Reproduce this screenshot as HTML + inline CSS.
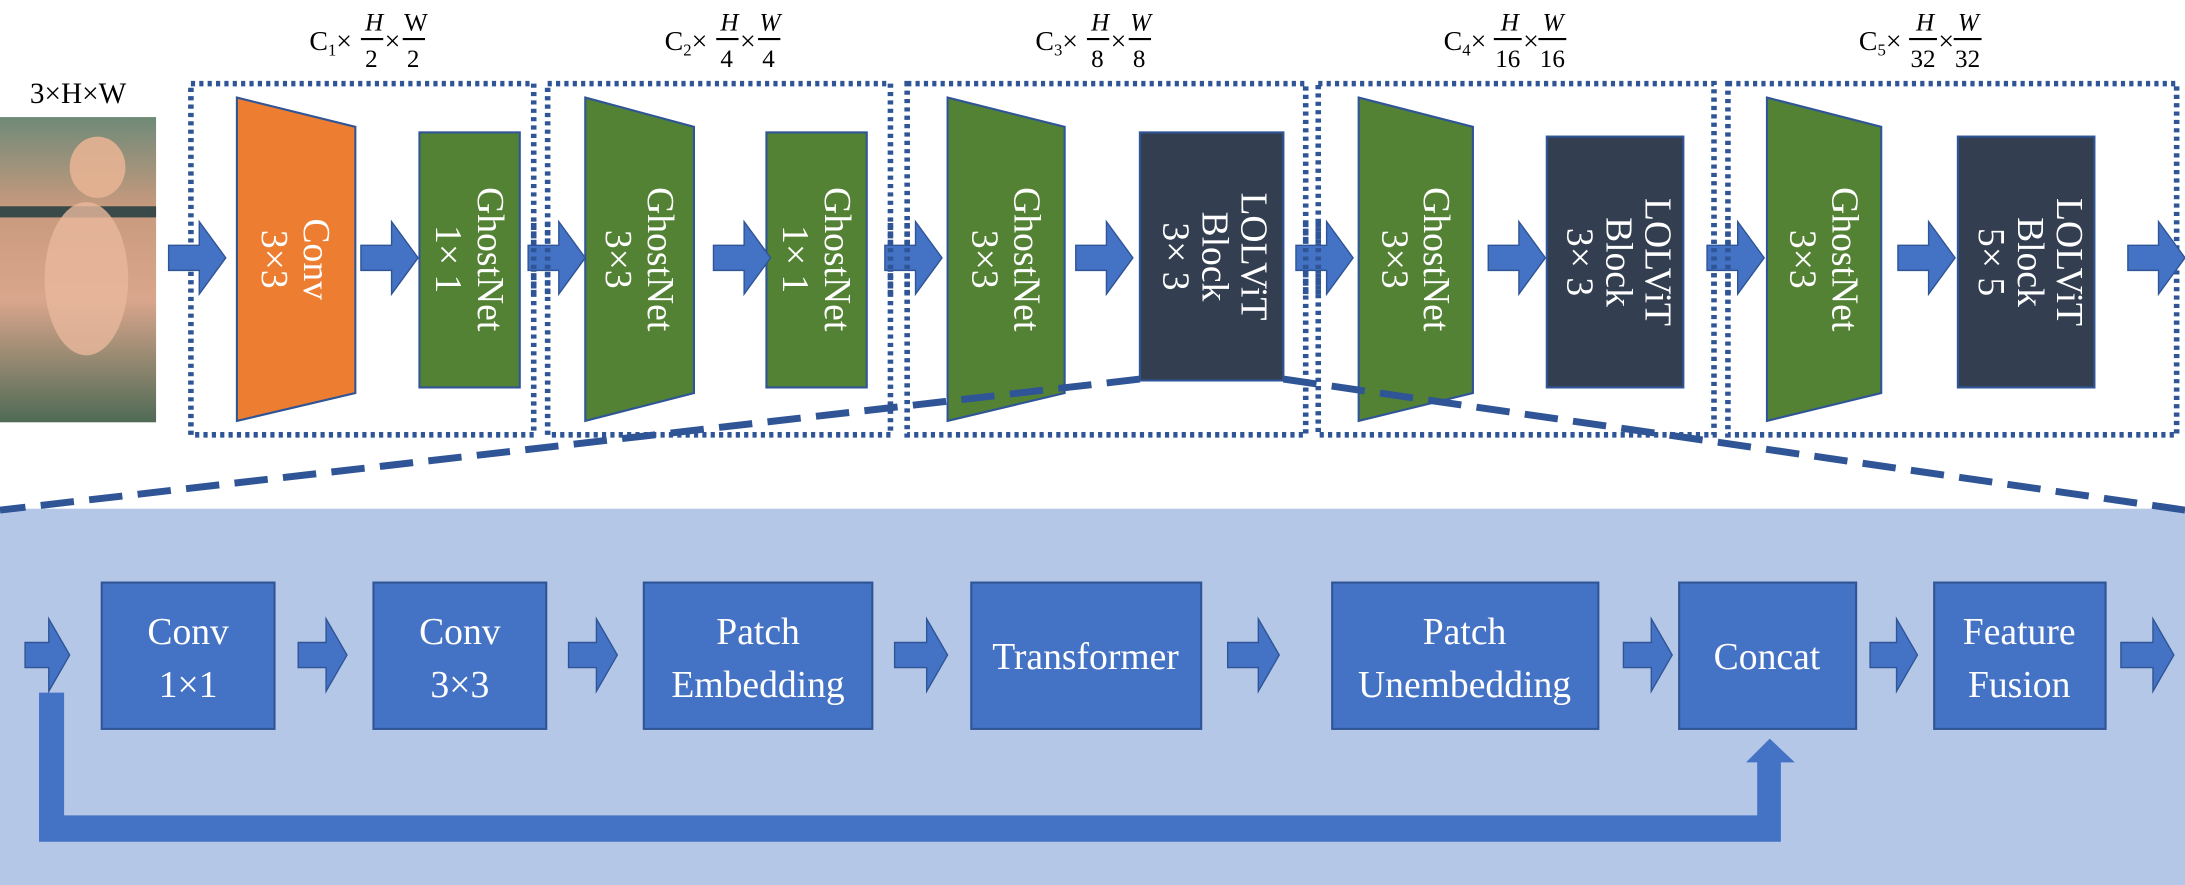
<!DOCTYPE html>
<html><head><meta charset="utf-8"><style>
html,body{margin:0;padding:0;background:#fff;}
svg{display:block;}
text{font-family:"Liberation Serif",serif;}
</style></head><body>
<svg width="2185" height="885" viewBox="0 0 1568 635" preserveAspectRatio="none" xmlns="http://www.w3.org/2000/svg">
<defs>
<linearGradient id="cat" x1="0" y1="0" x2="0" y2="1">
<stop offset="0" stop-color="#6f8a78"/><stop offset="0.3" stop-color="#c99a7e"/><stop offset="0.6" stop-color="#d9a68c"/><stop offset="1" stop-color="#4f6a55"/>
</linearGradient>
</defs>
<rect x="0" y="365" width="1568" height="270" fill="#b4c7e7"/>

<rect x="0" y="84" width="112" height="219" fill="url(#cat)"/>
<rect x="0" y="148" width="112" height="8" fill="#3a4a48"/>
<ellipse cx="62" cy="200" rx="30" ry="55" fill="#e8b89c" opacity="0.8"/>
<ellipse cx="70" cy="120" rx="20" ry="22" fill="#e6b293" opacity="0.9"/>
<text x="56" y="74" font-size="21" text-anchor="middle" fill="#000">3×H×W</text>

<g font-size="20" fill="#000">
<text x="222" y="36">C<tspan font-size="12" dy="4">1</tspan><tspan dy="-4">×</tspan></text>
<text x="262" y="22" font-style="italic" font-size="18">H</text><line x1="259" y1="28" x2="275" y2="28" stroke="#000" stroke-width="1.5"/><text x="262" y="48" font-size="18">2</text>
<text x="276" y="36">×</text>
<text x="290" y="22" font-size="18">W</text><line x1="289" y1="28" x2="305" y2="28" stroke="#000" stroke-width="1.5"/><text x="292" y="48" font-size="18">2</text>

<text x="477" y="36">C<tspan font-size="12" dy="4">2</tspan><tspan dy="-4">×</tspan></text>
<text x="517" y="22" font-style="italic" font-size="18">H</text><line x1="514" y1="28" x2="530" y2="28" stroke="#000" stroke-width="1.5"/><text x="517" y="48" font-size="18">4</text>
<text x="531" y="36">×</text>
<text x="545" y="22" font-style="italic" font-size="18">W</text><line x1="544" y1="28" x2="560" y2="28" stroke="#000" stroke-width="1.5"/><text x="547" y="48" font-size="18">4</text>

<text x="743" y="36">C<tspan font-size="12" dy="4">3</tspan><tspan dy="-4">×</tspan></text>
<text x="783" y="22" font-style="italic" font-size="18">H</text><line x1="780" y1="28" x2="796" y2="28" stroke="#000" stroke-width="1.5"/><text x="783" y="48" font-size="18">8</text>
<text x="797" y="36">×</text>
<text x="811" y="22" font-style="italic" font-size="18">W</text><line x1="810" y1="28" x2="826" y2="28" stroke="#000" stroke-width="1.5"/><text x="813" y="48" font-size="18">8</text>

<text x="1036" y="36">C<tspan font-size="12" dy="4">4</tspan><tspan dy="-4">×</tspan></text>
<text x="1077" y="22" font-style="italic" font-size="18">H</text><line x1="1072" y1="28" x2="1092" y2="28" stroke="#000" stroke-width="1.5"/><text x="1073" y="48" font-size="18">16</text>
<text x="1093" y="36">×</text>
<text x="1107" y="22" font-style="italic" font-size="18">W</text><line x1="1104" y1="28" x2="1124" y2="28" stroke="#000" stroke-width="1.5"/><text x="1105" y="48" font-size="18">16</text>

<text x="1334" y="36">C<tspan font-size="12" dy="4">5</tspan><tspan dy="-4">×</tspan></text>
<text x="1375" y="22" font-style="italic" font-size="18">H</text><line x1="1370" y1="28" x2="1390" y2="28" stroke="#000" stroke-width="1.5"/><text x="1371" y="48" font-size="18">32</text>
<text x="1391" y="36">×</text>
<text x="1405" y="22" font-style="italic" font-size="18">W</text><line x1="1402" y1="28" x2="1422" y2="28" stroke="#000" stroke-width="1.5"/><text x="1403" y="48" font-size="18">32</text>
</g>

<g fill="none" stroke="#2f5597" stroke-width="4" stroke-dasharray="3,3">
<rect x="137" y="60" width="246" height="252"/>
<rect x="393" y="60" width="246" height="252"/>
<rect x="651" y="60" width="286" height="252"/>
<rect x="946" y="60" width="284" height="252"/>
<rect x="1240" y="60" width="322" height="252"/>
</g>

<g stroke="#2f5597" stroke-width="1.5">
<polygon points="170,70 255,91 255,282 170,302" fill="#ed7d31"/>
<rect x="301" y="95" width="72" height="183" fill="#548235"/>
<polygon points="420,70 498,91 498,282 420,302" fill="#548235"/>
<rect x="550" y="95" width="72" height="183" fill="#548235"/>
<polygon points="680,70 764,91 764,282 680,302" fill="#548235"/>
<rect x="818" y="95" width="103" height="178" fill="#333f50"/>
<polygon points="975,70 1057,91 1057,282 975,302" fill="#548235"/>
<rect x="1110" y="98" width="98" height="180" fill="#333f50"/>
<polygon points="1268,70 1350,91 1350,282 1268,302" fill="#548235"/>
<rect x="1405" y="98" width="98" height="180" fill="#333f50"/>
</g>

<g fill="#fff" font-size="27" text-anchor="middle">
<g transform="translate(212,186) rotate(90)"><text x="0" y="-6">Conv</text><text x="0" y="24">3×3</text></g>
<g transform="translate(337,186) rotate(90)"><text x="0" y="-6">GhostNet</text><text x="0" y="24">1× 1</text></g>
<g transform="translate(459,186) rotate(90)"><text x="0" y="-6">GhostNet</text><text x="0" y="24">3×3</text></g>
<g transform="translate(586,186) rotate(90)"><text x="0" y="-6">GhostNet</text><text x="0" y="24">1× 1</text></g>
<g transform="translate(722,186) rotate(90)"><text x="0" y="-6">GhostNet</text><text x="0" y="24">3×3</text></g>
<g transform="translate(869,184) rotate(90)"><text x="0" y="-22">LOLViT</text><text x="0" y="6">Block</text><text x="0" y="34">3× 3</text></g>
<g transform="translate(1016,186) rotate(90)"><text x="0" y="-6">GhostNet</text><text x="0" y="24">3×3</text></g>
<g transform="translate(1159,188) rotate(90)"><text x="0" y="-22">LOLViT</text><text x="0" y="6">Block</text><text x="0" y="34">3× 3</text></g>
<g transform="translate(1309,186) rotate(90)"><text x="0" y="-6">GhostNet</text><text x="0" y="24">3×3</text></g>
<g transform="translate(1454,188) rotate(90)"><text x="0" y="-22">LOLViT</text><text x="0" y="6">Block</text><text x="0" y="34">5× 5</text></g>
</g>

<g fill="#4472c4" stroke="#2f5597" stroke-width="1">
<path d="M121,176 h22 v-17 l19,26 l-19,26 v-17 h-22 z"/>
<path d="M259,176 h22 v-17 l19,26 l-19,26 v-17 h-22 z"/>
<path d="M379,176 h22 v-17 l19,26 l-19,26 v-17 h-22 z"/>
<path d="M512,176 h22 v-17 l19,26 l-19,26 v-17 h-22 z"/>
<path d="M635,176 h22 v-17 l19,26 l-19,26 v-17 h-22 z"/>
<path d="M772,176 h22 v-17 l19,26 l-19,26 v-17 h-22 z"/>
<path d="M930,176 h22 v-17 l19,26 l-19,26 v-17 h-22 z"/>
<path d="M1068,176 h22 v-17 l19,26 l-19,26 v-17 h-22 z"/>
<path d="M1225,176 h22 v-17 l19,26 l-19,26 v-17 h-22 z"/>
<path d="M1362,176 h22 v-17 l19,26 l-19,26 v-17 h-22 z"/>
<path d="M1527,176 h22 v-17 l19,26 l-19,26 v-17 h-22 z"/>
</g>
<g stroke="#2f5597" stroke-width="4" stroke-dasharray="3,3">
<line x1="383" y1="160" x2="383" y2="212"/><line x1="393" y1="160" x2="393" y2="212"/>
<line x1="639" y1="160" x2="639" y2="212"/><line x1="651" y1="160" x2="651" y2="212"/>
<line x1="937" y1="160" x2="937" y2="212"/><line x1="946" y1="160" x2="946" y2="212"/>
<line x1="1230" y1="160" x2="1230" y2="212"/><line x1="1240" y1="160" x2="1240" y2="212"/>
</g>

<!-- dashed zoom lines on top -->
<line x1="818" y1="272" x2="0" y2="366" stroke="#2f5597" stroke-width="5" stroke-dasharray="24,11"/>
<line x1="921" y1="272" x2="1568" y2="366" stroke="#2f5597" stroke-width="5" stroke-dasharray="24,11"/>

<g fill="#4472c4" stroke="#2f5597" stroke-width="1.5">
<rect x="73" y="418" width="124" height="105"/>
<rect x="268" y="418" width="124" height="105"/>
<rect x="462" y="418" width="164" height="105"/>
<rect x="697" y="418" width="165" height="105"/>
<rect x="956" y="418" width="191" height="105"/>
<rect x="1205" y="418" width="127" height="105"/>
<rect x="1388" y="418" width="123" height="105"/>
</g>
<g fill="#fff" font-size="27" text-anchor="middle">
<text x="135" y="462">Conv</text><text x="135" y="500">1×1</text>
<text x="330" y="462">Conv</text><text x="330" y="500">3×3</text>
<text x="544" y="462">Patch</text><text x="544" y="500">Embedding</text>
<text x="779" y="480">Transformer</text>
<text x="1051" y="462">Patch</text><text x="1051" y="500">Unembedding</text>
<text x="1268" y="480">Concat</text>
<text x="1449" y="462">Feature</text><text x="1449" y="500">Fusion</text>
</g>
<g fill="#4472c4" stroke="#2f5597" stroke-width="1">
<path d="M18,461 h17 v-17 l15,26 l-15,26 v-17 h-17 z"/>
<path d="M214,461 h20 v-17 l15,26 l-15,26 v-17 h-20 z"/>
<path d="M408,461 h20 v-17 l15,26 l-15,26 v-17 h-20 z"/>
<path d="M642,461 h23 v-17 l15,26 l-15,26 v-17 h-23 z"/>
<path d="M881,461 h22 v-17 l15,26 l-15,26 v-17 h-22 z"/>
<path d="M1165,461 h20 v-17 l15,26 l-15,26 v-17 h-20 z"/>
<path d="M1342,461 h19 v-17 l15,26 l-15,26 v-17 h-19 z"/>
<path d="M1522,461 h23 v-17 l15,26 l-15,26 v-17 h-23 z"/>
</g>
<path d="M28,497 H46 V585 H1261 V547 H1253 L1270,530 L1288,547 H1278 V604 H28 Z" fill="#4472c4"/>
</svg>
</body></html>
